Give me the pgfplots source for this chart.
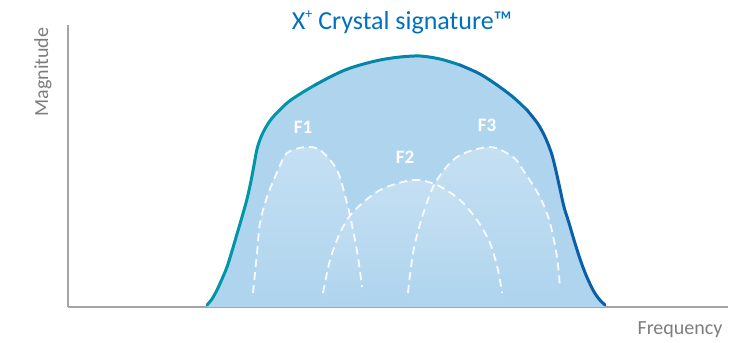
\documentclass[border=0pt]{standalone}
\usepackage{pgfplots}
\pgfplotsset{compat=1.18}
\usepackage{fontspec}
\setmainfont{Carlito}
\definecolor{FillBlue}{RGB}{174,212,238}
\definecolor{BumpTop}{RGB}{212,232,247}
\definecolor{EdgeTeal}{RGB}{0,150,165}
\definecolor{EdgeBlue}{RGB}{10,95,170}
\definecolor{AxisGray}{RGB}{165,165,165}
\definecolor{TitleBlue}{RGB}{0,112,192}
\definecolor{LabelGray}{RGB}{125,125,125}

\pgfplotsset{
    bump/.style={draw=none, smooth, top color=BumpTop, bottom color=FillBlue, fill opacity=0.6},
    bumpline/.style={smooth, white, line width=0.9pt, dash pattern=on 4pt off 2.5pt, opacity=0.9},
    edge/.style={smooth, line width=1.5pt, line cap=round},
}

\begin{document}
\begin{tikzpicture}
\begin{axis}[
    scale only axis,
    width=330pt, height=141pt,
    xmin=68, xmax=728, ymin=0, ymax=282,
    axis lines=left,
    axis line style={-, draw=AxisGray, line width=0.8pt},
    xtick=\empty, ytick=\empty,
    clip=false,
]
% main envelope
\addplot[fill=FillBlue, draw=none, smooth] coordinates {
    (207,2) (212,8) (217,17) (222,28) (227,40) (232,56) (237,73) (242,90) (247,108) (251,126) (254,142) (257,158) (261,170) (266,180) (273,190) (287,204) (300,213) (315,222)
    (330,230) (345,237) (360,242) (380,247) (400,250) (420,251) (440,248) (460,242)
    (480,233) (497,222) (513,210) (527,197)
    (538,183) (546,168) (552,152) (556,136) (560,118) (564,100) (569,84) (574,67) (580,48) (586,32) (593,17) (599,8) (605,2)
} \closedcycle;

% F1, F2, F3 areas
\addplot[bump] coordinates {
    (253,14) (257,54) (260,84) (267,110) (278,137) (287,154) (305,160) (320,157) (337,137) (347,104) (353,77) (358,50) (362,20)
} \closedcycle;
\addplot[bump] coordinates {
    (323,14) (330,47) (340,74) (353,95) (380,117) (413,127) (437,122) (460,107) (477,87) (490,64) (498,37) (502,14)
} \closedcycle;
\addplot[bump] coordinates {
    (408,14) (415,64) (433,120) (457,150) (490,160) (513,150) (523,137) (540,110) (550,84) (557,50) (560,20)
} \closedcycle;

\addplot[bumpline] coordinates {
    (253,14) (257,54) (260,84) (267,110) (278,137) (287,154) (305,160) (320,157) (337,137) (347,104) (353,77) (358,50) (362,20)
};
\addplot[bumpline] coordinates {
    (323,14) (330,47) (340,74) (353,95) (380,117) (413,127) (437,122) (460,107) (477,87) (490,64) (498,37) (502,14)
};
\addplot[bumpline] coordinates {
    (408,14) (415,64) (433,120) (457,150) (490,160) (513,150) (523,137) (540,110) (550,84) (557,50) (560,20)
};

% envelope edge, teal on the left turning to blue on the right
\addplot[edge, EdgeTeal] coordinates {
    (207,2) (212,8) (217,17) (222,28) (227,40) (232,56) (237,73) (242,90) (247,108) (251,126) (254,142) (257,158) (261,170) (266,180) (273,190) (287,204) (300,213) (315,222)
};
\addplot[edge, EdgeTeal!70!EdgeBlue] coordinates {
    (315,222) (330,230) (345,237) (360,242) (380,247) (400,250) (420,251) (440,248) (460,242)
};
\addplot[edge, EdgeTeal!30!EdgeBlue] coordinates {
    (460,242) (480,233) (497,222) (513,210) (527,197)
};
\addplot[edge, EdgeBlue] coordinates {
    (527,197) (538,183) (546,168) (552,152) (556,136) (560,118) (564,100) (569,84) (574,67) (580,48) (586,32) (593,17) (599,8) (605,2)
};

% labels
\node[white, font=\fontsize{9.5}{11}\selectfont\bfseries] at (axis cs:303,180) {F1};
\node[white, font=\fontsize{9.5}{11}\selectfont\bfseries] at (axis cs:405,150) {F2};
\node[white, font=\fontsize{9.5}{11}\selectfont\bfseries] at (axis cs:487,182) {F3};

\node[TitleBlue, font=\fontsize{13}{15}\selectfont] at (axis cs:402,285) {X\raisebox{0.9ex}{\fontsize{7}{8}\selectfont +} Crystal signature™};
\node[LabelGray, rotate=90, font=\fontsize{10}{12}\selectfont] at (axis cs:43,235) {Magnitude};
\node[LabelGray, font=\fontsize{10}{12}\selectfont] at (axis cs:680,-23) {Frequency};

\coordinate (bl) at (axis cs:0,-35);
\coordinate (tr) at (axis cs:732,307);
\end{axis}
\pgfresetboundingbox
\path (bl) rectangle (tr);
\end{tikzpicture}
\end{document}
